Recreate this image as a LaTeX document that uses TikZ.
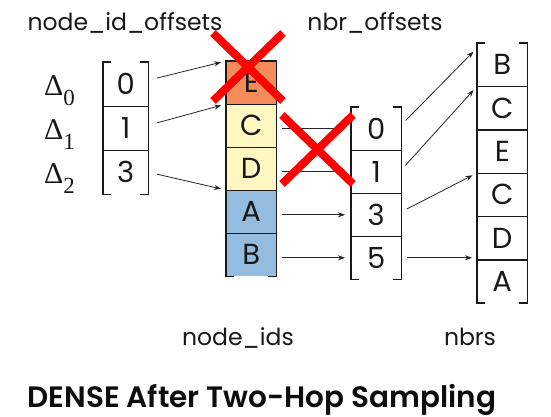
\documentclass[tikz,border=0pt]{standalone}
\usepackage{fontspec}
\setmainfont{Poppins}
\newfontfamily\titlefont{Poppins SemiBold}
\newfontfamily\deltafont{Liberation Serif}
\usetikzlibrary{arrows.meta,calc}

\definecolor{hopone}{HTML}{F58C5C}
\definecolor{hoptwo}{HTML}{FFF7C2}
\definecolor{hopthree}{HTML}{94BCDE}
\definecolor{crossred}{HTML}{FF0000}

% vertical bracket frame around a column of cells, with short ticks at the ends
\newcommand\bracketcol[2]{%
  \draw[frame] ([xshift=8pt]#1.north west) -- (#1.north west) -- (#2.south west) -- ++(8,0);
  \draw[frame] ([xshift=-8pt]#1.north east) -- (#1.north east) -- (#2.south east) -- ++(-8,0);
}

\begin{document}
\begin{tikzpicture}[x=1pt,y=-1pt,
  cellbase/.style={anchor=north west, inner sep=0pt, minimum height=#1,
    font=\fontsize{29}{29}\selectfont, text=black!90},
  narrowcell/.style={cellbase=44pt, minimum width=45pt},
  widecell/.style={cellbase=43.2pt, minimum width=50pt},
  frame/.style={line width=1.6pt, draw=black!90},
  divider/.style={line width=1.4pt, draw=black!90},
  arr/.style={-{Stealth[length=7pt,width=5pt]}, line width=0.8pt, draw=black!85},
  plainline/.style={line width=0.8pt, draw=black!85},
  label/.style={anchor=base, font=\fontsize{23.5}{23.5}\selectfont, text=black!90},
  deltalabel/.style={anchor=base east, inner sep=0pt, text=black!90},
  cross/.style={line width=8pt, draw=crossred},
]
\useasboundingbox[fill=white] (0,0) rectangle (551,416);

% column labels
\node[label] (lblA) at (125,30) {node\_id\_offsets};
\node[label] (lblC) at (375,30) {nbr\_offsets};
\node[label] (lblB) at (238,345) {node\_ids};
\node[label] (lblD) at (470,345) {nbrs};

% node_id_offsets
\foreach \t [count=\i from 0] in {0,1,3}
  \node[narrowcell] (a\i) at (103,{62+44*\i}) {\t};
\foreach \i in {0,1}
  \draw[divider] (a\i.south west) -- (a\i.south east);
\bracketcol{a0}{a2}

% hop deltas beside the offsets
\foreach \i in {0,1,2}
  \node[deltalabel] (delta\i) at ($(a\i.west)+(-28,11)$)
    {\deltafont\fontsize{30}{30}\selectfont Δ\raisebox{-10pt}{\fontsize{23}{23}\selectfont\i}};

% node_ids
\foreach \t/\f [count=\i from 0] in {E/hopone,C/hoptwo,D/hoptwo,A/hopthree,B/hopthree}
  \node[widecell, fill=\f] (b\i) at (226,{61+43*\i}) {\t};
\foreach \i in {0,...,3}
  \draw[divider] (b\i.south west) -- (b\i.south east);
\draw[divider] (b0.north west) -- (b0.north east);
\bracketcol{b0}{b4}

% nbr_offsets
\foreach \t [count=\i from 0] in {0,1,3,5}
  \node[widecell] (c\i) at (351,{107+43*\i}) {\t};
\foreach \i in {0,1,2}
  \draw[divider] (c\i.south west) -- (c\i.south east);
\bracketcol{c0}{c3}

% nbrs
\foreach \t [count=\i from 0] in {B,C,E,C,D,A}
  \node[widecell] (d\i) at (477,{43+43.33*\i}) {\t};
\foreach \i in {0,...,4}
  \draw[divider] (d\i.south west) -- (d\i.south east);
\bracketcol{d0}{d5}

% offsets into node_ids
\draw[arr, shorten <=9pt, shorten >=5pt] ($(a0.east)+(0,-4)$) -- (b0.north west);
\draw[arr, shorten <=9pt, shorten >=5pt] ($(a1.east)+(0,-3)$) -- (b1.north west);
\draw[arr, shorten <=9pt, shorten >=5pt] (a2.east) -- (b3.north west);

% node_ids into nbr_offsets
\draw[plainline, shorten <=6pt, shorten >=6pt] (b1.east |- c0.west) -- (c0.west);
\draw[plainline, shorten <=6pt, shorten >=6pt] (b2.east |- c1.west) -- (c1.west);
\draw[arr, shorten <=6pt, shorten >=6pt] (b3.east |- c2.west) -- (c2.west);
\draw[arr, shorten <=6pt, shorten >=6pt] (b4.east |- c3.west) -- (c3.west);

% nbr_offsets into nbrs
\draw[arr, shorten <=6pt, shorten >=5pt] ($(c0.east)+(0,-4)$) -- ($(d0.north west)+(0,5)$);
\draw[arr, shorten <=6pt, shorten >=5pt] ($(c1.east)+(0,-2)$) -- (d1.north west);
\draw[arr, shorten <=6pt, shorten >=5pt] ($(c2.east)+(0,-3)$) -- (d3.north west);
\draw[arr, shorten <=6pt, shorten >=5pt] (c3.east) -- (c3.east -| d5.west);

% pruned entries
\draw[cross] (213,33) -- (283,101);
\draw[cross] (213,101) -- (283,33);
\draw[cross] (282,115) -- (353,184);
\draw[cross] (282,184) -- (353,115);

% caption
\node[anchor=base, font=\titlefont\fontsize{29.5}{29.5}\selectfont, text=black!95] (title) at (262,407)
  {DENSE After Two-Hop Sampling};
\end{tikzpicture}
\end{document}
